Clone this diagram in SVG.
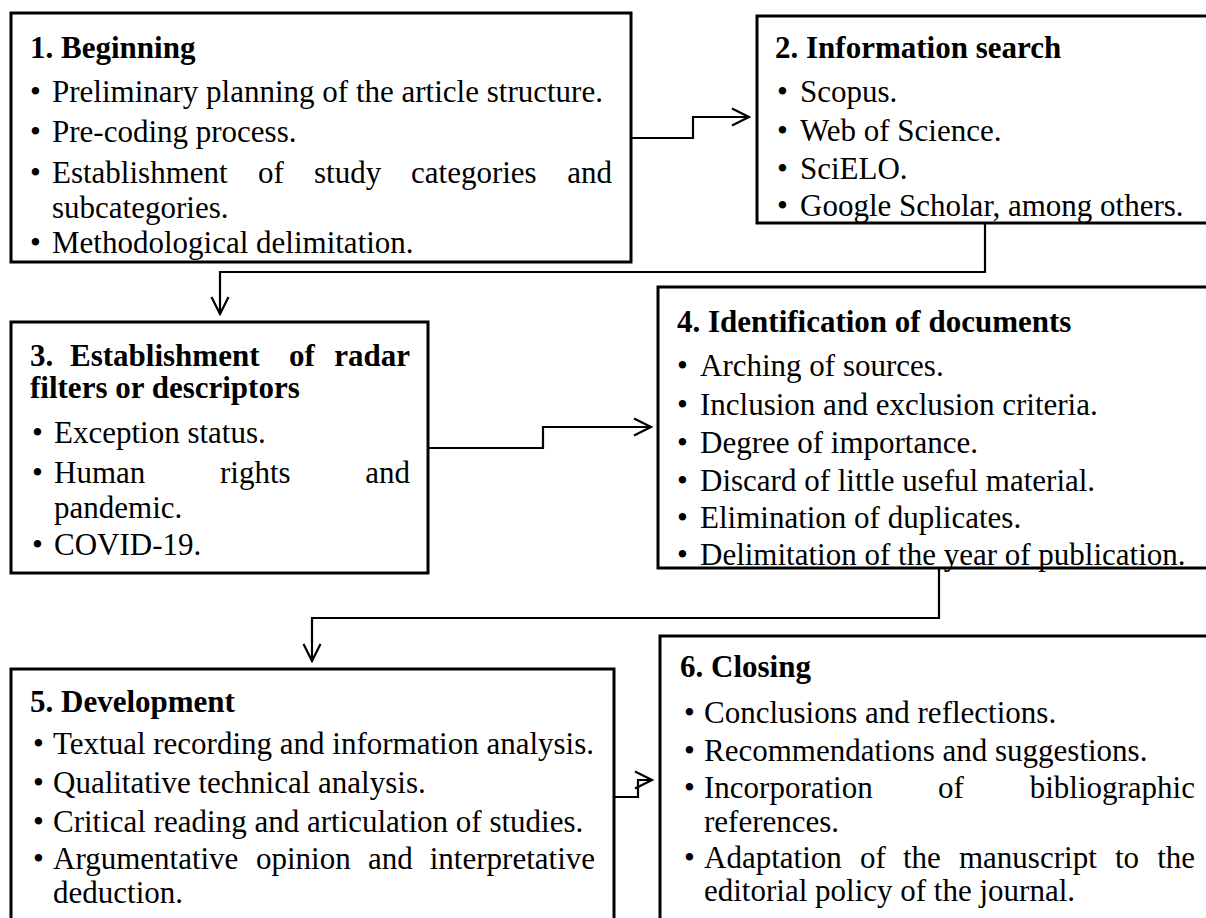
<svg xmlns="http://www.w3.org/2000/svg" width="1206" height="918" viewBox="0 0 1206 918">
<defs>
<style>
.box{fill:none;stroke:#000;stroke-width:3}
.c{fill:none;stroke:#000;stroke-width:2.2}
text{font-family:"Liberation Serif","Times New Roman",serif;font-size:31px;fill:#000}
.h{font-weight:bold}
.e{text-anchor:end}
</style>
<marker id="arr" viewBox="0 0 20 20" refX="18" refY="10" markerWidth="20" markerHeight="20" markerUnits="userSpaceOnUse" orient="auto">
<path d="M1,1.5 L18,10 L1,18.5" fill="none" stroke="#000" stroke-width="2.2"/>
</marker>
</defs>
<rect width="1206" height="918" fill="#fff"/>

<g id="node1">
<rect class="box" x="11" y="13" width="620" height="249"/>
<text class="h" x="30" y="58">1. Beginning</text>
<text x="30" y="102">•</text><text x="52" y="102">Preliminary planning of the article structure.</text>
<text x="30" y="142">•</text><text x="52" y="142">Pre-coding process.</text>
<text x="30" y="183">•</text><text x="52" y="183">Establishment</text><text x="258" y="183">of</text><text x="314" y="183">study</text><text x="411" y="183">categories</text><text class="e" x="612" y="183">and</text>
<text x="52" y="218">subcategories.</text>
<text x="30" y="253">•</text><text x="52" y="253">Methodological delimitation.</text>
</g>

<g id="node2">
<rect class="box" x="757" y="16" width="500" height="207"/>
<text class="h" x="775" y="58">2. Information search</text>
<text x="777" y="102">•</text><text x="800" y="102">Scopus.</text>
<text x="777" y="141">•</text><text x="800" y="141">Web of Science.</text>
<text x="777" y="179">•</text><text x="800" y="179">SciELO.</text>
<text x="777" y="216">•</text><text x="800" y="216">Google Scholar, among others.</text>
</g>

<g id="node3">
<rect class="box" x="11" y="322" width="417" height="251"/>
<text class="h" x="30" y="366">3.</text><text class="h" x="70" y="366">Establishment</text><text class="h" x="289" y="366">of</text><text class="h e" x="410" y="366">radar</text>
<text class="h" x="30" y="398">filters or descriptors</text>
<text x="32" y="443">•</text><text x="54" y="443">Exception status.</text>
<text x="32" y="483">•</text><text x="54" y="483">Human</text><text x="220" y="483">rights</text><text class="e" x="410" y="483">and</text>
<text x="54" y="518">pandemic.</text>
<text x="32" y="555">•</text><text x="54" y="555">COVID-19.</text>
</g>

<g id="node4">
<rect class="box" x="658" y="287" width="600" height="281"/>
<text class="h" x="677" y="332">4. Identification of documents</text>
<text x="677" y="376">•</text><text x="700" y="376">Arching of sources.</text>
<text x="677" y="415">•</text><text x="700" y="415">Inclusion and exclusion criteria.</text>
<text x="677" y="453">•</text><text x="700" y="453">Degree of importance.</text>
<text x="677" y="491">•</text><text x="700" y="491">Discard of little useful material.</text>
<text x="677" y="528">•</text><text x="700" y="528">Elimination of duplicates.</text>
<text x="677" y="565">•</text><text x="700" y="565">Delimitation of the year of publication.</text>
</g>

<g id="node5">
<rect class="box" x="11" y="669" width="603" height="300"/>
<text class="h" x="30" y="712">5. Development</text>
<text x="33" y="754">•</text><text x="53" y="754">Textual recording and information analysis.</text>
<text x="33" y="793">•</text><text x="53" y="793">Qualitative technical analysis.</text>
<text x="33" y="832">•</text><text x="53" y="832">Critical reading and articulation of studies.</text>
<text x="33" y="869">•</text><text x="53" y="869">Argumentative</text><text x="256" y="869">opinion</text><text x="368" y="869">and</text><text class="e" x="595" y="869">interpretative</text>
<text x="53" y="903">deduction.</text>
</g>

<g id="node6">
<rect class="box" x="660" y="636" width="600" height="320"/>
<text class="h" x="680" y="677">6. Closing</text>
<text x="684" y="723">•</text><text x="704" y="723">Conclusions and reflections.</text>
<text x="684" y="761">•</text><text x="704" y="761">Recommendations and suggestions.</text>
<text x="684" y="798">•</text><text x="704" y="798">Incorporation</text><text x="938" y="798">of</text><text class="e" x="1195" y="798">bibliographic</text>
<text x="704" y="832">references.</text>
<text x="684" y="868">•</text><text x="704" y="868">Adaptation</text><text x="860" y="868">of</text><text x="903" y="868">the</text><text x="959" y="868">manuscript</text><text x="1115" y="868">to</text><text class="e" x="1195" y="868">the</text>
<text x="704" y="901">editorial policy of the journal.</text>
</g>

<g id="connectors">
<path class="c" d="M631,138 H693 V117 H749" marker-end="url(#arr)"/>
<path class="c" d="M985,223 V272 H220 V314" marker-end="url(#arr)"/>
<path class="c" d="M428,448 H543 V427 H651" marker-end="url(#arr)"/>
<path class="c" d="M939,568 V618 H312 V661" marker-end="url(#arr)"/>
<path class="c" d="M614,797 H638 V780 H652" marker-end="url(#arr)"/>
</g>
</svg>
